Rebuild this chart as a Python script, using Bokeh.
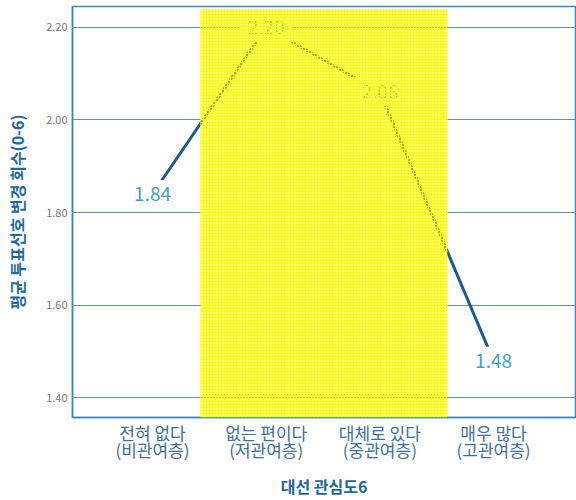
from bokeh.plotting import figure
from bokeh.models import FixedTicker, BoxAnnotation, ColumnDataSource, Range1d, NumeralTickFormatter
from bokeh.embed import file_html
from bokeh.resources import INLINE
from bokeh.core.properties import value

# ---- data ----
categories = ["전혀 없다\n(비관여층)", "없는 편이다\n(저관여층)", "대체로 있다\n(중관여층)", "매우 많다\n(고관여층)"]
means = [1.84, 2.20, 2.06, 1.48]
y_ticks = [1.40, 1.60, 1.80, 2.00, 2.20]
x_title = "대선 관심도6"
y_title = "평균 투표선호 변경 회수(0-6)"

# ---- style / layout ----
FONT = "Noto Sans CJK KR"
FRAME = "#3f86c0"
GRID = "#6d8ea9"
LINE = "#1a5a8c"
LABEL = "#3d9fd0"
CAT = "#3d6f98"
TITLE = "#22679a"
HL_LEFT, HL_RIGHT, HL_TOP = 0.422, 2.594, 2.239

xs = list(range(len(categories)))
src = ColumnDataSource(dict(x=xs, y=means, lbl=[f"{v:.2f}" for v in means]))

p = figure(width=576, height=500,
           x_range=Range1d(-0.704, 3.721), y_range=Range1d(1.3575, 2.2447),
           output_backend="svg", toolbar_location=None,
           min_border_left=72, min_border_right=1, min_border_top=6, min_border_bottom=83)
p.background_fill_color = "white"
p.border_fill_color = "white"
p.outline_line_color = FRAME
p.outline_line_width = 1.5

# grid
p.xgrid.visible = False
p.ygrid.ticker = FixedTicker(ticks=y_ticks)
p.ygrid.grid_line_color = GRID
p.ygrid.grid_line_width = 1

# y axis
p.yaxis.ticker = FixedTicker(ticks=y_ticks)
p.yaxis.formatter = NumeralTickFormatter(format="0.00")
p.yaxis.major_label_text_font = FONT
p.yaxis.major_label_text_font_size = "11px"
p.yaxis.major_label_text_color = "#777777"
p.yaxis.major_label_standoff = 5
p.yaxis.axis_label = y_title
p.yaxis.axis_label_text_font = FONT
p.yaxis.axis_label_text_font_size = "16px"
p.yaxis.axis_label_text_font_style = "bold"
p.yaxis.axis_label_text_color = TITLE
p.yaxis.axis_label_standoff = 14

# x axis
p.xaxis.ticker = FixedTicker(ticks=xs)
p.xaxis.major_label_overrides = {i: c for i, c in zip(xs, categories)}
p.xaxis.major_label_text_font = FONT
p.xaxis.major_label_text_font_size = "17px"
p.xaxis.major_label_text_color = CAT
p.xaxis.major_label_text_line_height = 0.69
p.xaxis.major_label_standoff = 2
p.xaxis.axis_label = x_title
p.xaxis.axis_label_text_font = FONT
p.xaxis.axis_label_text_font_size = "16px"
p.xaxis.axis_label_text_font_style = "bold"
p.xaxis.axis_label_text_color = TITLE
p.xaxis.axis_label_standoff = 9

for ax in (p.xaxis, p.yaxis):
    ax.axis_line_color = FRAME
    ax.axis_line_width = 1.5
    ax.major_tick_line_color = None
    ax.minor_tick_line_color = None
    ax.major_tick_out = 0
    ax.major_tick_in = 0

# data
p.line("x", "y", source=src, line_width=3, line_color=LINE)
p.text("x", "y", text="lbl", source=src, text_align="center", text_baseline="middle",
       text_font=value(FONT), text_font_size="19px", text_color=LABEL,
       background_fill_color="white", padding=7)

# highlighter overlay
hl = BoxAnnotation(left=HL_LEFT, right=HL_RIGHT, top=HL_TOP,
                   fill_color="#ffff00", fill_alpha=0.5,
                   hatch_pattern="+", hatch_color="#ffff00", hatch_scale=3, hatch_weight=1,
                   line_color=None, level="overlay")
p.add_layout(hl)

open("out.html", "w").write(file_html(p, INLINE))
